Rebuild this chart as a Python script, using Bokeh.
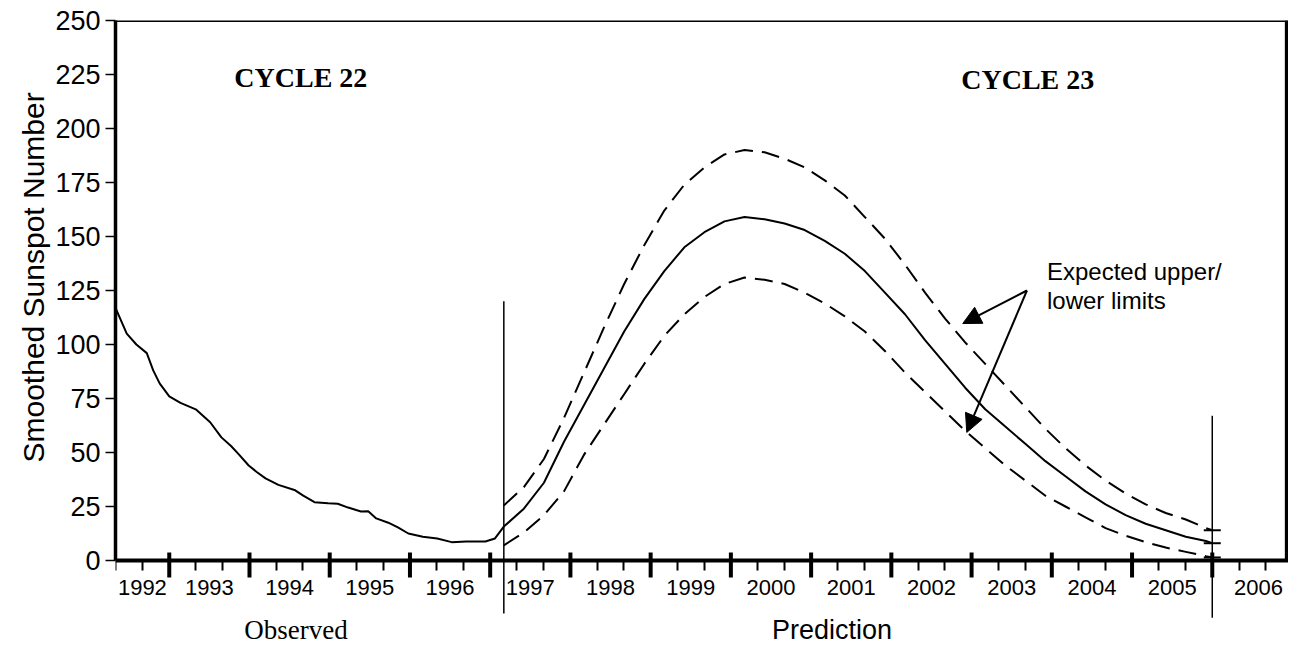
from bokeh.plotting import figure
from bokeh.models import (Range1d, FixedTicker, LinearAxis, Label, Arrow, NormalHead,
                          CustomJSTickFormatter, Title)
from bokeh.embed import file_html
from bokeh.resources import INLINE

# ---------------- data ----------------
obs_year = [1992.33, 1992.47, 1992.59, 1992.72, 1992.80, 1992.88, 1993.00, 1993.14,
            1993.33, 1993.51, 1993.65, 1993.77, 1993.87, 1993.99, 1994.09, 1994.20,
            1994.36, 1994.57, 1994.67, 1994.81, 1994.98, 1995.10, 1995.23, 1995.39,
            1995.48, 1995.58, 1995.73, 1995.85, 1995.98, 1996.16, 1996.34, 1996.52,
            1996.70, 1996.94, 1997.06, 1997.17]
obs_ssn = [117, 105, 100, 96, 88, 82, 76, 73,
           70, 64, 57, 53, 49, 44, 41, 38,
           35, 32.5, 30, 27, 26.5, 26.3, 24.5, 22.7,
           22.8, 19.5, 17.5, 15.3, 12.5, 11, 10.2, 8.5,
           8.8, 8.8, 10.2, 15.7]

pred_year = [1997.17, 1997.42, 1997.67, 1997.92, 1998.17, 1998.42, 1998.67, 1998.92,
             1999.17, 1999.42, 1999.67, 1999.92, 2000.17, 2000.42, 2000.67, 2000.92,
             2001.17, 2001.42, 2001.67, 2001.92, 2002.17, 2002.42, 2002.67, 2002.92,
             2003.17, 2003.42, 2003.67, 2003.92, 2004.17, 2004.42, 2004.67, 2004.92,
             2005.17, 2005.42, 2005.67, 2005.92, 2006.0]
pred_mid = [15.7, 24, 36, 55, 72, 89, 106, 121,
            134, 145, 152, 157, 159, 158, 156, 153,
            148, 142, 134, 124, 114, 102, 91, 80,
            70, 62, 54, 46, 39, 32, 26, 21,
            17, 14, 11, 9, 8]
pred_upper = [25.5, 34, 47, 66, 87, 108, 128, 146,
              162, 174, 182, 188, 190, 189, 186, 182,
              176, 169, 159, 149, 137, 124, 112, 101,
              91, 81, 71, 61, 52, 44, 37, 31,
              26, 22, 19, 15, 14]
pred_lower = [7, 13, 21, 32, 49, 63, 77, 91,
              104, 114, 122, 128, 131, 130, 128, 124,
              119, 113, 106, 97, 87, 78, 69, 60,
              52, 44, 37, 30, 25, 20, 15, 11.5,
              8.5, 6, 4, 2, 1.4]

year_starts = list(range(1993, 2007))
y_ticks = list(range(0, 251, 25))

split_start = 1997.17   # start of prediction
split_end = 2006.0      # end of prediction

# ---------------- figure ----------------
W, H = 1288, 644
LEFT, TOP = 115, 20
X0, X1 = 1992.33, 2006.95
PX_PER_YEAR = (W - LEFT) / (X1 - X0)
PX_PER_UNIT = 2.16
Y1 = 250
Y0 = -(H - TOP - Y1 * PX_PER_UNIT) / PX_PER_UNIT
p = figure(width=W, height=H, x_range=Range1d(X0, X1), y_range=Range1d(Y0, Y1),
           output_backend="svg", toolbar_location=None,
           min_border_left=LEFT, min_border_right=0, min_border_top=TOP, min_border_bottom=0)
p.background_fill_color = "white"
p.border_fill_color = "white"
p.xgrid.grid_line_color = None
p.ygrid.grid_line_color = None
p.outline_line_color = None

SANS = "Liberation Sans"
SERIF = "Liberation Serif"

# y axis (left)
ya = p.yaxis[0]
ya.ticker = FixedTicker(ticks=y_ticks)
ya.bounds = (0, 250)
ya.axis_line_width = 3.5
ya.axis_line_color = "black"
ya.major_tick_out = 10
ya.major_tick_in = 0
ya.major_tick_line_width = 1.5
ya.minor_tick_line_color = None
ya.major_label_text_font = SANS
ya.major_label_text_font_size = "27px"
ya.major_label_text_color = "black"
ya.major_label_standoff = 5

# y-axis title, placed along the 0..250 part of the axis
p.add_layout(Title(text="Smoothed Sunspot Number", align="left", offset=182,
                   text_font=SANS, text_font_size="30px", text_font_style="normal",
                   text_color="black", standoff=6), "left")

# x axis at y = 0: year labels centred in each year, 4-month minor ticks
xa = p.xaxis[0]
minor = [round(1992 + k / 3.0, 4) for k in range(1, 45)]
label_pos = [(X0 + 1993) / 2] + [y + 0.5 for y in range(1993, 2006)] + [(2006 + X1) / 2 + 0.1]
xa.fixed_location = 0
xa.ticker = FixedTicker(ticks=label_pos, minor_ticks=minor)
xa.formatter = CustomJSTickFormatter(code="return String(Math.floor(tick));")
xa.axis_line_width = 4
xa.axis_line_color = "black"
xa.major_tick_line_color = None
xa.major_tick_in = 0
xa.major_tick_out = 0
xa.minor_tick_in = 0
xa.minor_tick_out = 10
xa.minor_tick_line_width = 2
xa.minor_tick_line_color = "black"
xa.major_label_standoff = 9
xa.major_label_text_font = SANS
xa.major_label_text_font_size = "22px"
xa.major_label_text_color = "black"

# heavy year-boundary ticks crossing the axis
p.segment(x0=year_starts, y0=[8 / PX_PER_UNIT] * len(year_starts),
          x1=year_starts, y1=[-17 / PX_PER_UNIT] * len(year_starts),
          line_color="black", line_width=4)

# box: top border (axis) and right border (just inside the frame edge)
top = LinearAxis(fixed_location=Y1, ticker=FixedTicker(ticks=[]), axis_line_width=3,
                 axis_line_color="black")
p.add_layout(top, "above")
x_right = X1 - 1.9 / PX_PER_YEAR
p.segment(x0=[x_right], y0=[0], x1=[x_right], y1=[Y1], line_color="black", line_width=3.5)

# ---------------- data lines ----------------
p.line(obs_year, obs_ssn, line_color="black", line_width=2)
p.line(pred_year, pred_mid, line_color="black", line_width=2)
p.line(pred_year, pred_upper, line_color="black", line_width=2, line_dash="18 9")
p.line(pred_year, pred_lower, line_color="black", line_width=2, line_dash="18 9")
p.scatter([pred_year[-1]] * 3, [pred_upper[-1], pred_mid[-1], pred_lower[-1]],
          marker="dash", size=17, line_color="black", line_width=2)

# vertical separators (extend below the axis)
p.segment(x0=[split_start, split_end], y0=[120, 67], x1=[split_start, split_end],
          y1=[-24.5, -26.5], line_color="black", line_width=1.5)

# annotations
p.add_layout(Label(x=1994.64, y=223.8, text="CYCLE 22", text_font=SERIF, text_font_style="bold",
                   text_font_size="28px", text_align="center", text_baseline="middle",
                   text_color="black"))
p.add_layout(Label(x=2003.70, y=222.6, text="CYCLE 23", text_font=SERIF, text_font_style="bold",
                   text_font_size="28px", text_align="center", text_baseline="middle",
                   text_color="black"))
p.add_layout(Label(x=2003.94, y=133.8, text="Expected upper/", text_font=SANS,
                   text_font_size="24px", text_align="left", text_baseline="middle",
                   text_color="black"))
p.add_layout(Label(x=2003.94, y=120.4, text="lower limits", text_font=SANS,
                   text_font_size="24px", text_align="left", text_baseline="middle",
                   text_color="black"))
p.add_layout(Arrow(end=NormalHead(size=18, fill_color="black", line_color="black"),
                   x_start=2003.69, y_start=125, x_end=2002.89, y_end=109.7,
                   line_color="black", line_width=2))
p.add_layout(Arrow(end=NormalHead(size=18, fill_color="black", line_color="black"),
                   x_start=2003.69, y_start=125, x_end=2002.94, y_end=59.3,
                   line_color="black", line_width=2))
p.add_layout(Label(x=1994.58, y=-32.4, text="Observed", text_font=SERIF,
                   text_font_size="27px", text_align="center", text_baseline="middle",
                   text_color="black"))
p.add_layout(Label(x=2001.26, y=-32.4, text="Prediction", text_font=SANS,
                   text_font_size="27px", text_align="center", text_baseline="middle",
                   text_color="black"))

open("out.html", "w").write(file_html(p, INLINE))
